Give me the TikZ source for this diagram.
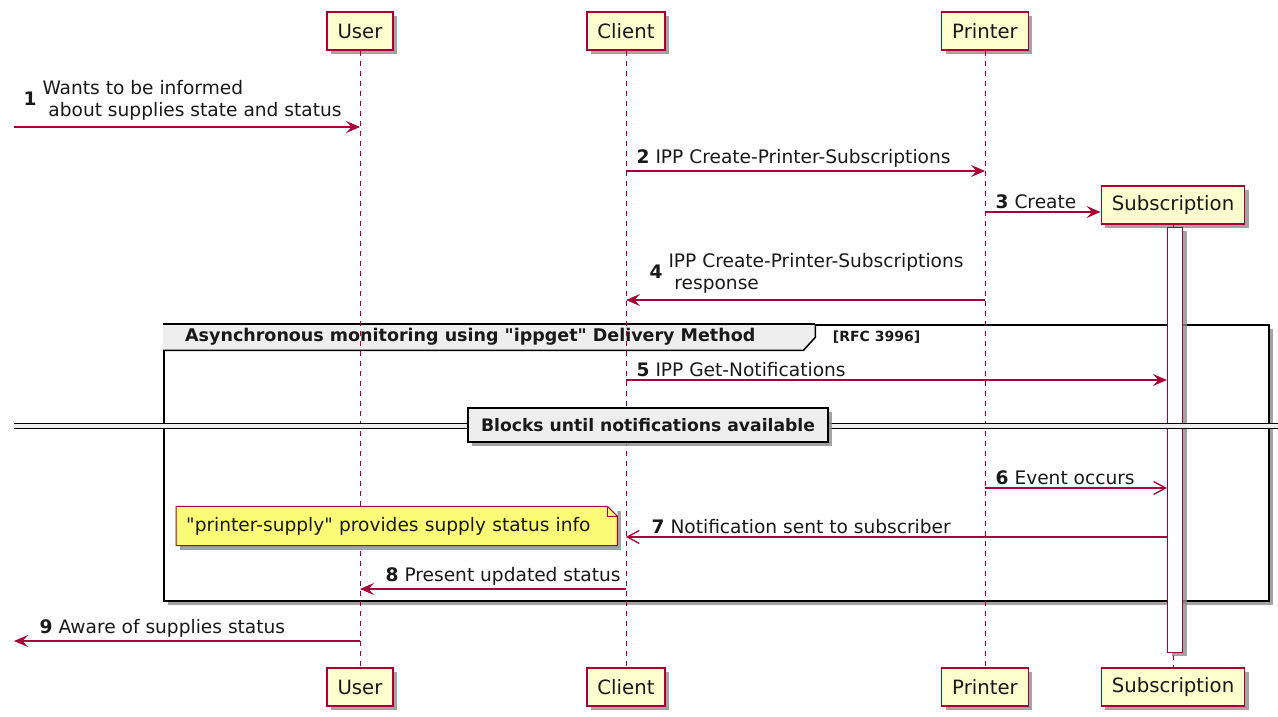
\documentclass[tikz,border=0pt]{standalone}
\usepackage{fontspec}
\setmainfont{DejaVu Sans}
\usetikzlibrary{positioning,arrows.meta,calc,shadows}

\definecolor{umlred}{HTML}{A80036}
\definecolor{umlfill}{HTML}{FEFECE}
\definecolor{notefill}{HTML}{FBFB77}
\definecolor{grpfill}{HTML}{EEEEEE}
\newcommand\msgfont{\fontsize{18.6}{22}\selectfont}
\newcommand\actorfont{\fontsize{19.7}{23}\selectfont}
\newcommand\headfont{\bfseries\fontsize{17.5}{21}\selectfont}

\begin{document}
\begin{tikzpicture}[
  x=1pt, y=-1pt,
  every node/.style={font=\msgfont, text=black!90},
  umlshadow/.style={drop shadow={shadow xshift=4pt, shadow yshift=-4pt, fill=black!45, opacity=0.8}},
  actor/.style={
    draw=umlred,
    line width=1.5pt,
    fill=umlfill,
    font=\actorfont,
    minimum height=38pt,
    inner xsep=10.5pt,
    umlshadow
  },
  act/.style={draw=umlred, line width=1.2pt, fill=white, minimum width=15pt, inner sep=0pt, umlshadow},
  life/.style={draw=umlred, line width=0.9pt, dash pattern=on 5pt off 5pt},
  msg/.style={draw=umlred, line width=1.3pt, -{Stealth[length=14pt, width=12pt, inset=5.5pt]}},
  amsg/.style={draw=umlred, line width=1.3pt, -{Straight Barb[length=12pt, width=13pt]}},
  lbl/.style={anchor=south west, inner sep=1pt, yshift=2pt, align=left},
  grp/.style={draw=black, line width=2pt, fill=white, inner sep=0pt, umlshadow},
  grptitle/.style={fill=grpfill, font=\headfont, inner xsep=22pt, minimum height=26pt, inner ysep=0pt},
  divbox/.style={draw=black, line width=2pt, fill=grpfill, font=\bfseries\fontsize{17.2}{20}\selectfont, inner xsep=13pt, minimum height=34pt, umlshadow},
  notebox/.style={fill=notefill, minimum height=39pt, inner xsep=10pt, text width=421pt, align=left, umlshadow}
]
\useasboundingbox (0,0) rectangle (1278,717);

% Fold size of the note corner and slant of the group tab
\def\fold{10}
\def\tabcut{12}

% Group frame first, so lifelines run over it
\node[grp, anchor=north west, minimum width=1105pt, minimum height=276pt] (async) at (163,324) {};
\node[grptitle, anchor=north west] (asyncT) at (async.north west) {\makebox[608pt][l]{Asynchronous monitoring using \textquotedbl ippget\textquotedbl{} Delivery Method}};
\fill[white] (asyncT.east) -- (asyncT.south east) -- ($(asyncT.south east)+(-\tabcut,0)$) -- cycle;
\draw[line width=2pt] (asyncT.north west) -- (asyncT.north east);
\draw[line width=1.5pt] (asyncT.north east) -- (asyncT.east) -- ($(asyncT.south east)+(-\tabcut,0)$) -- (asyncT.south west);
\node[font=\bfseries\fontsize{14}{16}\selectfont, anchor=west] (rfc) at ($(asyncT.east)+(14,0)$) {[RFC 3996]};

% Participants
\node[actor] (user) at (360,31) {User};
\node[actor] (client) at (626,31) {Client};
\node[actor] (printer) at (985,31) {Printer};
\node[actor] (sub) at (1173,205) {Subscription};
\node[actor] (userB) at (360,687) {User};
\node[actor] (clientB) at (626,687) {Client};
\node[actor] (printerB) at (985,687) {Printer};
\node[actor] (subB) at (1173,687) {Subscription};

% Lifelines
\draw[life] (user.south) -- (userB.north);
\draw[life] (client.south) -- (clientB.north);
\draw[life] (printer.south) -- (printerB.north);
\draw[life] (sub.south) -- (subB.north);
\node[act, anchor=north, minimum height=425pt] (subAct) at ($(sub.south)+(2,2)$) {};

% Found message and lost message ends
\coordinate (in1) at (14,127);
\coordinate (out9) at (14,641);

% Messages
\draw[msg] (in1) -- (user |- in1)
  node[lbl, pos=0, xshift=8pt] {\textbf{1} \begin{tabular}[c]{@{}l@{}}Wants to be informed\\\ about supplies state and status\end{tabular}};
\draw[msg] (client |- 0,171) -- (printer |- 0,171)
  node[lbl, pos=0, xshift=9pt] {\textbf{2} IPP Create-Printer-Subscriptions};
\draw[msg] (printer |- 0,212) -- (sub.west |- 0,212)
  node[lbl, pos=0, xshift=9pt] {\textbf{3} Create};
\draw[msg] (printer |- 0,300) -- (client |- 0,300)
  node[lbl, pos=1, xshift=22pt] {\textbf{4} \begin{tabular}[c]{@{}l@{}}IPP Create-Printer-Subscriptions\\\ response\end{tabular}};
\draw[msg] (client |- 0,380) -- (subAct.west |- 0,380)
  node[lbl, pos=0, xshift=9pt] {\textbf{5} IPP Get-Notifications};

% Divider across the whole diagram
\coordinate (divL) at (14,426);
\coordinate (divR) at (1278,426);
\draw[line width=1.3pt, double=grpfill, double distance=3.5pt] (divL) -- (divR);
\node[divbox] (blocks) at (648,425) {Blocks until notifications available};

\draw[amsg] (printer |- 0,488) -- (subAct.west |- 0,488)
  node[lbl, pos=0, xshift=9pt] {\textbf{6} Event occurs};
\draw[amsg] (subAct.west |- 0,537) -- (client |- 0,537)
  node[lbl, pos=1, xshift=24pt] {\textbf{7} Notification sent to subscriber};
\draw[msg] (client |- 0,589) -- (user |- 0,589)
  node[lbl, pos=1, xshift=24pt] {\textbf{8} Present updated status};
\draw[msg] (user |- out9) -- (out9)
  node[lbl, pos=1, xshift=24pt] {\textbf{9} Aware of supplies status};

% Note with folded corner
\node[notebox, anchor=west] (supply) at (176,526) {\textquotedbl printer-supply\textquotedbl{} provides supply status info};
\fill[white] ($(supply.north east)+(-\fold,0)$) -- (supply.north east) -- ($(supply.north east)+(0,\fold)$) -- cycle;
\draw[umlred, line width=1pt] (supply.south west) -- (supply.north west) -- ($(supply.north east)+(-\fold,0)$)
  -- ($(supply.north east)+(0,\fold)$) -- (supply.south east) -- cycle;
\draw[umlred, line width=1pt] ($(supply.north east)+(-\fold,0)$) |- ($(supply.north east)+(0,\fold)$);

\end{tikzpicture}
\end{document}
